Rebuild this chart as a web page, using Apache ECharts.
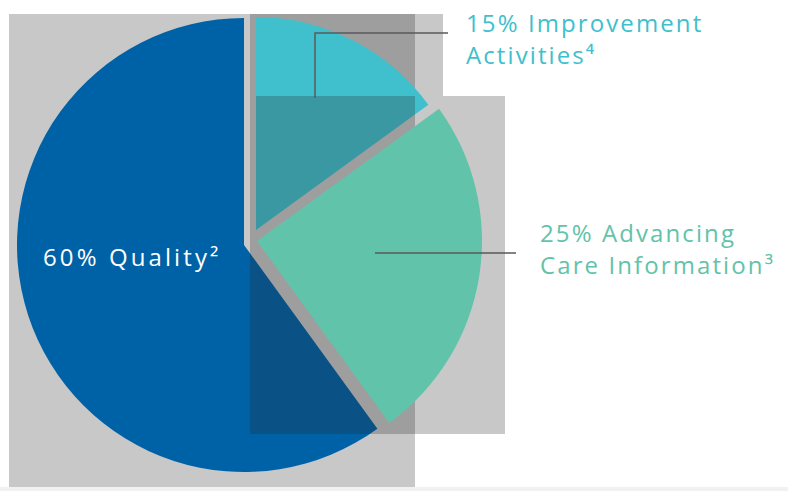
<!DOCTYPE html>
<html><head><meta charset="utf-8">
<script src="https://cdn.jsdelivr.net/npm/echarts@6/dist/echarts.min.js"></script>
<style>
html,body{margin:0;padding:0;background:#fff}
#c{width:788px;height:491px}
#c svg text{letter-spacing:2.1px}
#c svg text[fill="#ffffff"],#c svg text[fill="#fff"],#c svg text[fill="white"]{letter-spacing:3.1px}
</style>
</head><body><div id="c"></div><script>
// Data
const categories = ['Improvement\nActivities⁴', 'Advancing\nCare Information³', 'Quality²'];
const values = [15, 25, 60];
const sliceColors = ['#40c0cc', '#62c3ab', '#0062a6'];
const textColors = ['#40bfcc', '#62c3aa', '#ffffff'];

// Layout (exploded pieces drawn as separate pie series)
const pieGeom = [
  { center: [256, 230], r: 213, z: 2 },
  { center: [257, 241], r: 225, z: 4 },
  { center: [244, 245], r: 227, z: 2 }
];
const labelPos = [
  { x: 466, y: 6 },
  { x: 540, y: 216 },
  { x: 43, y: 240 }
];
const leaderLines = [
  [[315, 98], [315, 33], [448, 33]],
  [[375, 253], [516, 253]]
];

const chart = echarts.init(document.getElementById('c'), null, { renderer: 'svg' });

const series = pieGeom.map((g, si) => ({
  type: 'pie',
  z: g.z,
  center: g.center,
  radius: [0, g.r],
  startAngle: 90,
  clockwise: true,
  avoidLabelOverlap: false,
  silent: true,
  animation: false,
  emphasis: { disabled: true },
  labelLine: { show: false },
  data: values.map((v, i) => ({
    name: categories[i],
    value: v,
    itemStyle: { color: i === si ? sliceColors[i] : 'rgba(0,0,0,0)', borderWidth: 0 },
    label: {
      show: i === si,
      position: 'inside',
      formatter: p => p.value + '% ' + p.name,
      color: textColors[i],
      fontFamily: 'Open Sans',
      fontSize: 24,
      lineHeight: 32,
      align: 'left'
    }
  })),
  labelLayout: params => {
    if (params.dataIndex !== si) return {};
    const lp = labelPos[si];
    return { x: lp.x, y: lp.y, align: 'left', verticalAlign: 'top' };
  }
}));

const graphics = [
  { type: 'rect', z: 0, silent: true, shape: { x: 9, y: 14, width: 406, height: 473 }, style: { fill: '#c8c8c8' } },
  { type: 'rect', z: 0, silent: true, shape: { x: 415, y: 14, width: 28, height: 82 }, style: { fill: '#c8c8c8' } },
  { type: 'rect', z: 0, silent: true, shape: { x: 415, y: 96, width: 90, height: 338 }, style: { fill: '#c8c8c8' } },
  { type: 'rect', z: 0, silent: true, shape: { x: 250, y: 14, width: 165, height: 82 }, style: { fill: '#9e9e9e' } },
  { type: 'rect', z: 3, silent: true, shape: { x: 250, y: 96, width: 165, height: 338 }, style: { fill: 'rgba(38,38,38,0.26)' } },
  { type: 'rect', z: 10, silent: true, shape: { x: 0, y: 487, width: 788, height: 4 }, style: { fill: 'rgba(0,0,0,0.055)' } }
].concat(leaderLines.map(pts => ({
  type: 'polyline', z: 6, silent: true,
  shape: { points: pts },
  style: { stroke: '#595959', lineWidth: 1.5, fill: 'none' }
})));

chart.setOption({
  backgroundColor: '#ffffff',
  animation: false,
  graphic: graphics,
  series: series
});
</script></body></html>
